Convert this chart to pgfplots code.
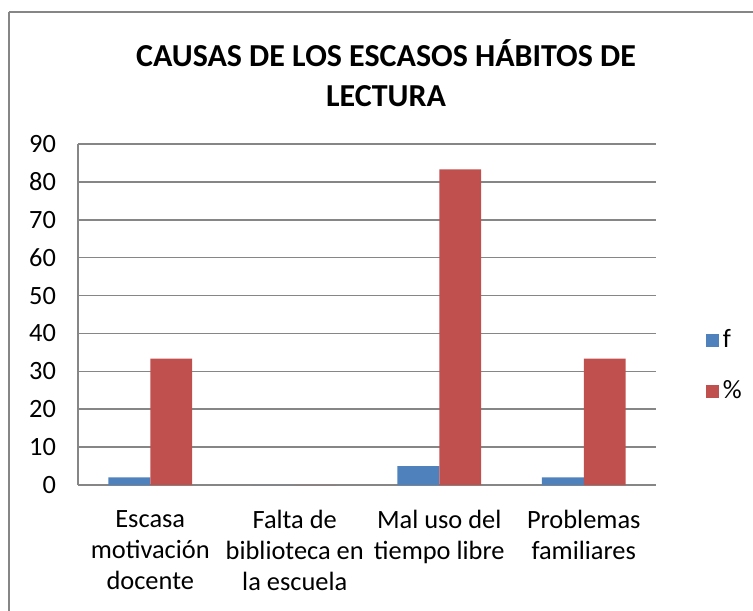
\documentclass[border=0pt]{standalone}
\usepackage{fontspec}
\setmainfont{Carlito}
\usepackage{pgfplots}
\pgfplotsset{compat=1.18}
\definecolor{fblue}{HTML}{4F81BD}
\definecolor{pred}{HTML}{C0504D}
\definecolor{gridgray}{HTML}{868686}
\begin{document}
\begin{tikzpicture}
\begin{axis}[
  at={(0,0)}, anchor=south west,
  scale only axis, width=289pt, height=170.5pt,
  ybar, bar width=0.29, 
  xmin=-0.5, xmax=3.5, ymin=0, ymax=90,
  xtick={0,1,2,3},
  xticklabels={Escasa\\motivación\\docente, Falta de\\biblioteca en\\la escuela, Mal uso del\\tiempo libre, Problemas\\familiares},
  xticklabel style={align=center, font=\fontsize{13.2}{15.5}\selectfont, yshift=-9pt},
  ytick={0,10,...,90},
  yticklabel style={font=\fontsize{13.2}{15}\selectfont, xshift=-7.5pt},
  /pgf/number format/assume math mode=true,
  major tick length=0pt,
  ymajorgrids, grid style={gridgray, line width=0.8pt},
  axis x line*=bottom, axis y line*=left,
  axis line style={gridgray, line width=0.8pt, -},
  x axis line style={-}, y axis line style={-},
  legend style={at={(1.075,0.35)}, anchor=west, draw=none, fill=none,
    font=\fontsize{13.2}{15}\selectfont, row sep=11pt,
    /tikz/every even column/.append style={column sep=2pt}},
  legend image code/.code={\fill[#1, draw=none] (0pt,-3.25pt) rectangle (6.5pt,3.25pt);},
  legend cell align=left,
]
\addplot[fill=fblue, draw=none, bar shift=-0.145] coordinates {(0,2) (1,0) (2,5) (3,2)};
\addlegendentry{f}
\addplot[fill=pred, draw=none, bar shift=0.145] coordinates {(0,33.33) (1,0) (2,83.33) (3,33.33)};
\addlegendentry{\%}
\end{axis}
\draw[gridgray, line width=0.8pt] (-34.5pt,236.5pt) -- (360pt,236.5pt);
\draw[gridgray, line width=0.8pt] (-34.5pt,236.5pt) -- (-34.5pt,-80pt);
\node[font=\fontsize{16}{20}\selectfont\bfseries, align=center] at (154pt,206pt)
  {CAUSAS DE LOS ESCASOS HÁBITOS DE\\LECTURA};
\pgfresetboundingbox
\useasboundingbox (-39pt,-62.5pt) rectangle (337.5pt,242.5pt);
\end{tikzpicture}
\end{document}
